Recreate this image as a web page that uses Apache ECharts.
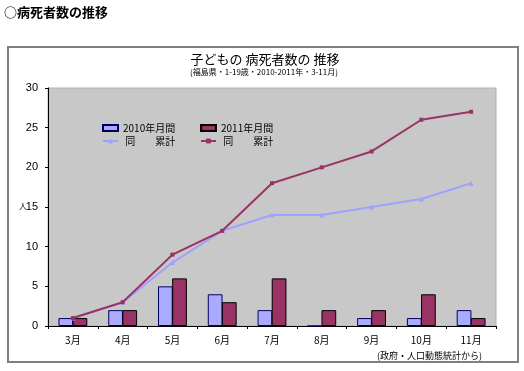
<!DOCTYPE html>
<html><head><meta charset="utf-8">
<script src="https://cdn.jsdelivr.net/npm/echarts@6/dist/echarts.min.js"></script>
<style>html,body{margin:0;padding:0;background:#fff}#c{width:524px;height:371px}</style>
</head><body><div id="c"></div>
<script>
const categories = ['3月','4月','5月','6月','7月','8月','9月','10月','11月'];
const monthly2010 = [1,2,5,4,2,0,1,1,2];
const monthly2011 = [1,2,6,3,6,2,2,4,1];
const cumulative2010 = [1,3,8,12,14,14,15,16,18];
const cumulative2011 = [1,3,9,12,18,20,22,26,27];
const yTicks = {min:0, max:30, interval:5};

const FONT = '"Noto Sans CJK JP", "Noto Sans", sans-serif';
const chart = echarts.init(document.getElementById('c'), null, {renderer:'canvas'});
const legendBase = {itemWidth:15, itemHeight:6, textStyle:{fontSize:10, color:'#000', fontFamily:FONT}, itemGap:2, padding:0};
chart.setOption({
  animation:false,
  textStyle:{fontFamily:FONT},
  graphic:[
    {type:'rect', shape:{x:8, y:47, width:510, height:315}, style:{fill:'#fff', stroke:'#808080', lineWidth:2}, z:-10},
    {type:'text', left:4, top:6, style:{text:'○病死者数の推移', fontSize:13, fontWeight:'bold', fill:'#000', fontFamily:FONT}},
    {type:'text', x:265, y:53, style:{text:'子どもの 病死者数の 推移', fontSize:13, fill:'#000', fontFamily:FONT, align:'center'}},
    {type:'text', x:264, y:68, style:{text:'(福島県・1-19歳・2010-2011年・3-11月)', fontSize:8, fill:'#000', fontFamily:FONT, align:'center'}},
    {type:'text', x:19, y:202, style:{text:'人', fontSize:8, fill:'#000', fontFamily:FONT}},
    {type:'text', x:377, y:351, style:{text:'(政府・人口動態統計から)', fontSize:9, fill:'#000', fontFamily:FONT}}
  ],
  grid:{left:48, top:88, right:28, bottom:45, show:true, backgroundColor:'#c8c8c8', borderColor:'#b0b0b0', borderWidth:1},
  legend:[
    Object.assign({}, legendBase, {left:102, top:123, data:[{name:'2010年月間', icon:'rect'}]}),
    Object.assign({}, legendBase, {left:200, top:123, data:[{name:'2011年月間', icon:'rect'}]}),
    Object.assign({}, legendBase, {left:102, top:136, data:[' 同　　累計']}),
    Object.assign({}, legendBase, {left:200, top:136, data:[' 同　　累計 ']})
  ],
  xAxis:{type:'category', data:categories,
    axisLine:{lineStyle:{color:'#000', width:1}},
    axisTick:{show:true, length:3, alignWithLabel:false, lineStyle:{color:'#000'}},
    axisLabel:{fontSize:10, color:'#000', margin:9, fontFamily:FONT}},
  yAxis:{type:'value', min:yTicks.min, max:yTicks.max, interval:yTicks.interval,
    axisLine:{show:true, lineStyle:{color:'#000'}},
    axisTick:{show:true, length:3, lineStyle:{color:'#000'}},
    splitLine:{show:false},
    axisLabel:{fontSize:11, color:'#000', margin:10, fontFamily:'"Liberation Sans", Arial, sans-serif'}},
  series:[
    {name:'2010年月間', type:'bar', data:monthly2010, barGap:'-4%', barCategoryGap:'42%',
      itemStyle:{color:'#aaaaff', borderColor:'#000060', borderWidth:1}},
    {name:'2011年月間', type:'bar', data:monthly2011, barGap:'-4%', barCategoryGap:'42%',
      itemStyle:{color:'#993366', borderColor:'#000', borderWidth:1}},
    {name:' 同　　累計', type:'line', data:cumulative2010, symbol:'triangle', symbolSize:5,
      lineStyle:{color:'#a0a0ff', width:2}, itemStyle:{color:'#a0a0ff'}, z:3},
    {name:' 同　　累計 ', type:'line', data:cumulative2011, symbol:'rect', symbolSize:4,
      lineStyle:{color:'#993366', width:2}, itemStyle:{color:'#993366'}, z:4}
  ]
});
</script></body></html>
